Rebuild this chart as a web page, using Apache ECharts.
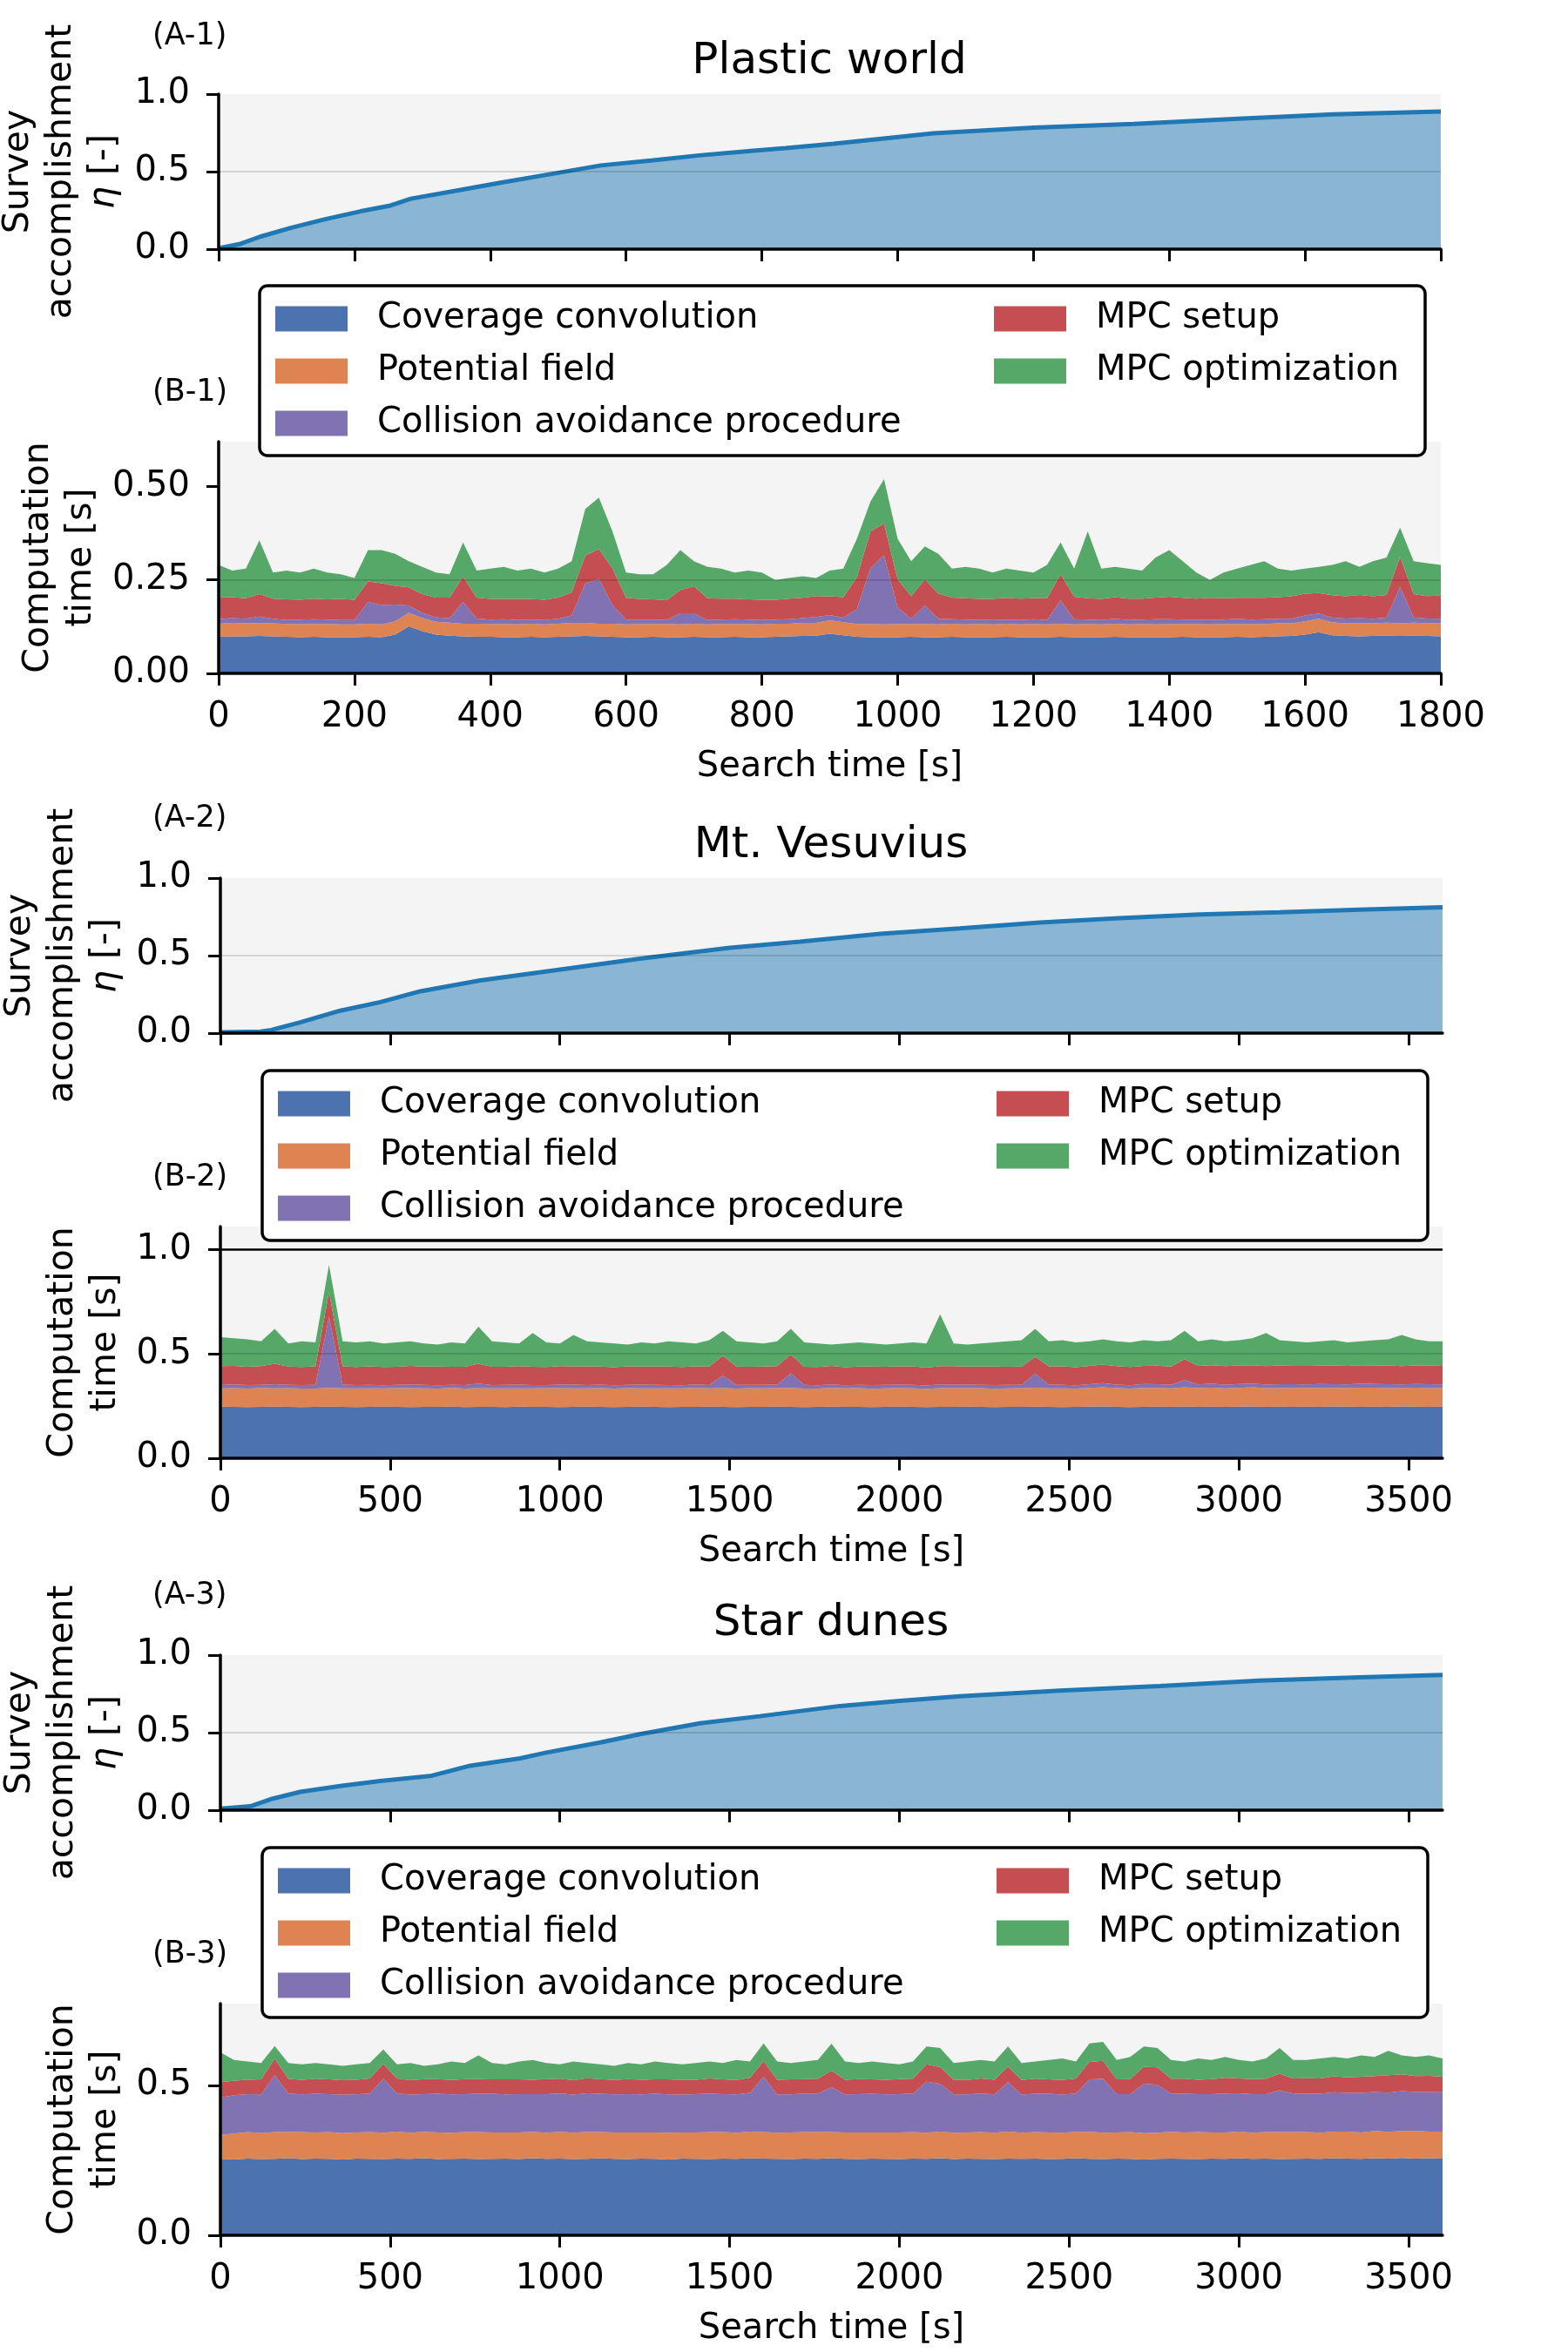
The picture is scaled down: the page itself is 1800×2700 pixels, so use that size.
<!DOCTYPE html>
<html>
<head>
<meta charset="utf-8">
<title>Survey accomplishment and computation time</title>
<script src="https://cdn.jsdelivr.net/npm/echarts@6.0.0/dist/echarts.min.js"></script>
<style>
    html, body { margin: 0; padding: 0; background: #fff; }
    #chart { width: 1800px; height: 2700px; }
</style>
</head>
<body>
<div id="chart"></div>
<script>
var FONT = 'DejaVu Sans';

// (A) survey accomplishment eta
var etaTime1 = [0, 32, 61, 106, 157, 209, 253, 283, 342, 415, 489, 563, 637, 711, 784, 835, 906, 1053, 1201, 1348, 1496, 1642, 1800];
var eta1 = [0.006, 0.034, 0.08, 0.137, 0.193, 0.244, 0.281, 0.325, 0.371, 0.428, 0.484, 0.54, 0.572, 0.606, 0.634, 0.652, 0.68, 0.747, 0.784, 0.807, 0.84, 0.869, 0.887];

var etaTime2 = [0, 118, 150, 235, 353, 471, 589, 765, 1001, 1236, 1501, 1707, 1943, 2178, 2414, 2649, 2885, 3120, 3356, 3600];
var eta2 = [0.005, 0.01, 0.02, 0.07, 0.145, 0.2, 0.27, 0.34, 0.41, 0.48, 0.55, 0.59, 0.64, 0.675, 0.713, 0.741, 0.765, 0.78, 0.797, 0.812];

var etaTime3 = [0, 88, 147, 235, 353, 471, 618, 736, 883, 957, 1119, 1236, 1413, 1589, 1825, 2002, 2178, 2473, 2767, 3061, 3356, 3600];
var eta3 = [0.01, 0.025, 0.07, 0.118, 0.156, 0.188, 0.22, 0.287, 0.334, 0.37, 0.437, 0.49, 0.56, 0.606, 0.672, 0.705, 0.734, 0.771, 0.80, 0.835, 0.857, 0.872];

// (B) computation time per step, sampled times
var timeB1 = [0,20,40,60,80,100,120,140,160,180,200,220,240,260,280,300,320,340,360,380,400,420,440,460,480,500,520,540,560,580,600,620,640,660,680,700,720,740,760,780,800,820,840,860,880,900,920,940,960,980,1000,1020,1040,1060,1080,1100,1120,1140,1160,1180,1200,1220,1240,1260,1280,1300,1320,1340,1360,1380,1400,1420,1440,1460,1480,1500,1520,1540,1560,1580,1600,1620,1640,1660,1680,1700,1720,1740,1760,1780,1800];
var timeB23 = [0,40,80,120,160,200,240,280,320,360,400,440,480,520,560,600,640,680,720,760,800,840,880,920,960,1000,1040,1080,1120,1160,1200,1240,1280,1320,1360,1400,1440,1480,1520,1560,1600,1640,1680,1720,1760,1800,1840,1880,1920,1960,2000,2040,2080,2120,2160,2200,2240,2280,2320,2360,2400,2440,2480,2520,2560,2600,2640,2680,2720,2760,2800,2840,2880,2920,2960,3000,3040,3080,3120,3160,3200,3240,3280,3320,3360,3400,3440,3480,3520,3560,3600];

// Plastic world
var coverage1 = [0.098,0.099,0.099,0.100,0.099,0.098,0.097,0.098,0.097,0.097,
    0.097,0.098,0.097,0.104,0.126,0.113,0.104,0.101,0.099,0.098,
    0.098,0.097,0.097,0.098,0.097,0.098,0.099,0.100,0.099,0.098,
    0.097,0.097,0.098,0.097,0.097,0.098,0.097,0.097,0.098,0.097,
    0.097,0.098,0.099,0.100,0.101,0.106,0.102,0.098,0.097,0.097,
    0.097,0.098,0.097,0.097,0.098,0.097,0.097,0.097,0.098,0.097,
    0.097,0.097,0.098,0.097,0.097,0.097,0.098,0.097,0.097,0.097,
    0.097,0.098,0.097,0.097,0.097,0.098,0.097,0.098,0.099,0.100,
    0.104,0.110,0.102,0.100,0.099,0.100,0.101,0.100,0.101,0.100,0.099];
var potential1 = [0.035,0.036,0.035,0.034,0.035,0.034,0.035,0.034,0.035,0.034,
    0.034,0.035,0.034,0.035,0.036,0.035,0.034,0.035,0.034,0.035,
    0.034,0.035,0.034,0.035,0.034,0.035,0.036,0.035,0.034,0.035,
    0.034,0.035,0.034,0.035,0.034,0.035,0.034,0.035,0.034,0.035,
    0.034,0.035,0.034,0.035,0.034,0.036,0.035,0.034,0.035,0.034,
    0.035,0.034,0.035,0.034,0.035,0.034,0.035,0.034,0.035,0.034,
    0.035,0.034,0.035,0.034,0.035,0.034,0.035,0.034,0.035,0.034,
    0.035,0.034,0.035,0.034,0.035,0.034,0.035,0.034,0.035,0.034,
    0.035,0.036,0.035,0.034,0.035,0.034,0.035,0.034,0.035,0.034,0.035];
var collision1 = [0.012,0.013,0.012,0.018,0.012,0.011,0.012,0.013,0.012,0.012,
    0.012,0.058,0.052,0.045,0.020,0.014,0.012,0.012,0.058,0.014,
    0.012,0.013,0.012,0.011,0.012,0.013,0.020,0.105,0.120,0.050,
    0.013,0.012,0.012,0.011,0.030,0.028,0.012,0.012,0.013,0.012,
    0.012,0.011,0.012,0.013,0.016,0.014,0.012,0.040,0.150,0.185,
    0.045,0.014,0.050,0.015,0.012,0.013,0.012,0.012,0.011,0.012,
    0.013,0.012,0.062,0.014,0.012,0.012,0.013,0.012,0.012,0.014,
    0.013,0.012,0.012,0.013,0.012,0.014,0.012,0.013,0.012,0.012,
    0.016,0.014,0.012,0.013,0.014,0.012,0.013,0.098,0.014,0.013,0.012];
var mpcSetup1 = [0.058,0.056,0.055,0.060,0.054,0.055,0.053,0.055,0.054,0.056,
    0.054,0.055,0.058,0.050,0.048,0.050,0.053,0.055,0.068,0.056,
    0.055,0.054,0.056,0.055,0.054,0.057,0.062,0.075,0.080,0.098,
    0.058,0.055,0.054,0.053,0.062,0.072,0.058,0.056,0.055,0.054,
    0.054,0.053,0.055,0.054,0.056,0.050,0.055,0.085,0.098,0.085,
    0.075,0.060,0.070,0.068,0.058,0.057,0.055,0.056,0.058,0.057,
    0.056,0.058,0.070,0.060,0.057,0.056,0.058,0.057,0.056,0.058,
    0.060,0.058,0.056,0.058,0.057,0.056,0.058,0.057,0.058,0.060,
    0.058,0.055,0.060,0.059,0.062,0.060,0.061,0.080,0.062,0.060,0.062];
var mpcOpt1 = [0.087,0.071,0.079,0.144,0.070,0.077,0.073,0.080,0.072,0.066,
    0.058,0.084,0.089,0.086,0.070,0.073,0.067,0.062,0.091,0.072,
    0.081,0.086,0.076,0.081,0.073,0.077,0.083,0.125,0.137,0.099,
    0.068,0.066,0.067,0.094,0.107,0.067,0.084,0.080,0.070,0.077,
    0.073,0.053,0.055,0.058,0.048,0.069,0.076,0.103,0.080,0.119,
    0.108,0.094,0.088,0.106,0.077,0.084,0.081,0.071,0.078,0.075,
    0.069,0.089,0.085,0.075,0.179,0.081,0.081,0.080,0.075,0.107,
    0.125,0.098,0.070,0.048,0.069,0.078,0.088,0.098,0.076,0.069,
    0.067,0.070,0.081,0.094,0.075,0.094,0.100,0.078,0.088,0.088,0.082];

// Mt. Vesuvius
var coverage2 = [0.247,0.246,0.245,0.246,0.247,0.246,0.245,0.246,0.247,0.246,
    0.245,0.246,0.247,0.246,0.245,0.246,0.246,0.247,0.245,0.246,
    0.246,0.245,0.247,0.246,0.246,0.245,0.246,0.247,0.246,0.245,
    0.246,0.247,0.246,0.245,0.246,0.246,0.247,0.246,0.245,0.246,
    0.246,0.247,0.246,0.245,0.246,0.247,0.246,0.246,0.245,0.246,
    0.247,0.246,0.245,0.246,0.246,0.247,0.246,0.245,0.246,0.246,
    0.247,0.246,0.245,0.246,0.247,0.248,0.246,0.245,0.246,0.247,
    0.246,0.248,0.246,0.247,0.246,0.247,0.248,0.246,0.247,0.246,
    0.247,0.246,0.248,0.247,0.246,0.247,0.246,0.248,0.247,0.246,0.247];
var potential2 = [0.088,0.090,0.089,0.091,0.088,0.090,0.089,0.088,0.090,0.089,
    0.090,0.089,0.088,0.090,0.091,0.089,0.088,0.090,0.089,0.090,
    0.089,0.090,0.088,0.089,0.090,0.091,0.089,0.088,0.090,0.089,
    0.090,0.088,0.089,0.090,0.089,0.091,0.088,0.090,0.089,0.090,
    0.089,0.090,0.091,0.089,0.088,0.090,0.089,0.090,0.088,0.089,
    0.090,0.089,0.088,0.090,0.091,0.089,0.090,0.088,0.089,0.090,
    0.091,0.089,0.090,0.088,0.090,0.092,0.090,0.089,0.091,0.090,
    0.089,0.092,0.090,0.091,0.089,0.090,0.092,0.090,0.089,0.091,
    0.090,0.091,0.089,0.090,0.092,0.091,0.090,0.089,0.091,0.090,0.089];
var collision2 = [0.016,0.018,0.017,0.015,0.020,0.016,0.017,0.018,0.340,0.018,
    0.016,0.017,0.015,0.016,0.018,0.017,0.016,0.015,0.017,0.022,
    0.016,0.017,0.018,0.016,0.015,0.017,0.018,0.016,0.017,0.015,
    0.016,0.018,0.017,0.016,0.015,0.017,0.016,0.060,0.018,0.016,
    0.017,0.016,0.070,0.018,0.016,0.017,0.015,0.016,0.018,0.017,
    0.016,0.017,0.015,0.018,0.016,0.017,0.016,0.018,0.017,0.016,
    0.068,0.018,0.017,0.016,0.018,0.020,0.017,0.016,0.019,0.018,
    0.017,0.035,0.018,0.020,0.017,0.019,0.018,0.017,0.019,0.018,
    0.017,0.019,0.018,0.017,0.020,0.018,0.019,0.017,0.018,0.019,0.018];
var mpcSetup2 = [0.090,0.088,0.087,0.089,0.098,0.087,0.086,0.088,0.120,0.087,
    0.086,0.088,0.087,0.086,0.088,0.087,0.089,0.086,0.087,0.095,
    0.087,0.086,0.088,0.087,0.086,0.088,0.087,0.089,0.086,0.087,
    0.088,0.086,0.087,0.088,0.087,0.086,0.088,0.095,0.087,0.086,
    0.087,0.088,0.090,0.086,0.087,0.088,0.086,0.087,0.088,0.086,
    0.087,0.088,0.086,0.087,0.088,0.086,0.087,0.088,0.086,0.087,
    0.080,0.087,0.088,0.086,0.087,0.089,0.088,0.087,0.086,0.088,
    0.087,0.100,0.088,0.087,0.089,0.088,0.087,0.088,0.089,0.087,
    0.088,0.087,0.089,0.088,0.087,0.088,0.089,0.087,0.088,0.089,0.088];
var mpcOpt2 = [0.139,0.133,0.132,0.119,0.167,0.111,0.123,0.115,0.129,0.120,
    0.118,0.120,0.113,0.117,0.118,0.111,0.106,0.117,0.112,0.177,
    0.122,0.117,0.109,0.162,0.118,0.109,0.150,0.120,0.116,0.114,
    0.105,0.116,0.111,0.121,0.118,0.110,0.126,0.119,0.121,0.117,
    0.111,0.119,0.123,0.117,0.113,0.103,0.114,0.116,0.111,0.107,
    0.110,0.115,0.116,0.249,0.109,0.106,0.111,0.116,0.122,0.126,
    0.134,0.120,0.125,0.119,0.118,0.121,0.119,0.118,0.123,0.117,
    0.126,0.135,0.118,0.125,0.119,0.121,0.130,0.159,0.121,0.118,
    0.113,0.117,0.121,0.113,0.115,0.121,0.126,0.149,0.126,0.116,0.118];

// Star dunes
var coverage3 = [0.255,0.253,0.256,0.254,0.255,0.257,0.254,0.256,0.255,0.253,
    0.256,0.255,0.254,0.256,0.255,0.257,0.254,0.255,0.256,0.254,
    0.255,0.256,0.254,0.257,0.255,0.256,0.254,0.255,0.257,0.255,
    0.254,0.256,0.255,0.253,0.256,0.255,0.254,0.256,0.255,0.257,
    0.256,0.255,0.254,0.256,0.255,0.257,0.255,0.254,0.256,0.255,
    0.254,0.256,0.255,0.257,0.254,0.256,0.255,0.254,0.256,0.255,
    0.256,0.254,0.255,0.257,0.255,0.254,0.256,0.255,0.253,0.255,
    0.256,0.255,0.254,0.256,0.255,0.257,0.255,0.256,0.254,0.255,
    0.256,0.255,0.257,0.256,0.255,0.257,0.256,0.258,0.256,0.257,0.256];
var potential3 = [0.080,0.086,0.088,0.087,0.089,0.088,0.090,0.087,0.089,0.088,
    0.087,0.089,0.088,0.090,0.087,0.088,0.089,0.087,0.088,0.090,
    0.088,0.087,0.089,0.088,0.087,0.089,0.088,0.090,0.087,0.088,
    0.089,0.087,0.088,0.089,0.087,0.088,0.090,0.088,0.087,0.089,
    0.088,0.087,0.089,0.088,0.090,0.087,0.088,0.089,0.087,0.088,
    0.089,0.088,0.087,0.089,0.088,0.087,0.089,0.088,0.090,0.087,
    0.088,0.089,0.087,0.088,0.090,0.088,0.087,0.089,0.088,0.087,
    0.089,0.088,0.090,0.087,0.088,0.089,0.087,0.088,0.090,0.089,
    0.088,0.087,0.089,0.090,0.088,0.091,0.089,0.090,0.092,0.089,0.090];
var collision3 = [0.125,0.128,0.127,0.129,0.190,0.128,0.126,0.129,0.127,0.128,
    0.127,0.129,0.180,0.128,0.127,0.126,0.129,0.128,0.127,0.128,
    0.129,0.127,0.128,0.126,0.129,0.128,0.127,0.129,0.128,0.127,
    0.128,0.127,0.129,0.128,0.126,0.128,0.129,0.127,0.128,0.129,
    0.185,0.128,0.127,0.129,0.128,0.150,0.127,0.128,0.129,0.127,
    0.128,0.129,0.170,0.160,0.128,0.127,0.129,0.128,0.165,0.127,
    0.128,0.129,0.127,0.128,0.175,0.180,0.128,0.127,0.165,0.160,
    0.128,0.129,0.127,0.128,0.130,0.128,0.129,0.127,0.140,0.129,
    0.128,0.130,0.131,0.129,0.132,0.130,0.131,0.133,0.130,0.132,0.131];
var mpcSetup3 = [0.050,0.049,0.048,0.050,0.055,0.049,0.048,0.050,0.049,0.048,
    0.049,0.050,0.050,0.049,0.048,0.050,0.049,0.048,0.050,0.049,
    0.048,0.050,0.049,0.048,0.050,0.049,0.048,0.050,0.049,0.048,
    0.050,0.049,0.048,0.050,0.049,0.048,0.050,0.049,0.048,0.050,
    0.052,0.049,0.050,0.048,0.049,0.055,0.049,0.050,0.048,0.049,
    0.050,0.049,0.058,0.055,0.049,0.048,0.050,0.049,0.052,0.049,
    0.050,0.048,0.049,0.050,0.058,0.060,0.049,0.050,0.056,0.058,
    0.049,0.050,0.048,0.050,0.052,0.049,0.050,0.051,0.055,0.050,
    0.052,0.051,0.053,0.052,0.054,0.053,0.058,0.056,0.053,0.054,0.052];
var mpcOpt3 = [0.100,0.069,0.061,0.055,0.042,0.053,0.052,0.053,0.050,0.048,
    0.051,0.052,0.048,0.047,0.058,0.044,0.049,0.062,0.054,0.079,
    0.055,0.050,0.060,0.066,0.054,0.048,0.063,0.051,0.049,0.047,
    0.054,0.051,0.060,0.055,0.052,0.056,0.057,0.055,0.067,0.055,
    0.059,0.061,0.055,0.059,0.063,0.090,0.061,0.054,0.060,0.056,
    0.049,0.058,0.060,0.064,0.056,0.062,0.062,0.061,0.067,0.057,
    0.058,0.065,0.072,0.057,0.062,0.063,0.065,0.074,0.068,0.065,
    0.063,0.058,0.071,0.064,0.070,0.062,0.059,0.068,0.086,0.062,
    0.061,0.067,0.065,0.063,0.071,0.064,0.081,0.063,0.064,0.068,0.061];

var partNames = ['Coverage convolution', 'Potential field', 'Collision avoidance procedure', 'MPC setup', 'MPC optimization'];
var partColors = ['#4c72b0', '#dd8452', '#8172b3', '#c44e52', '#55a868'];
var titles = ['Plastic world', 'Mt. Vesuvius', 'Star dunes'];
var panelTags = ['(A-1)', '(B-1)', '(A-2)', '(B-2)', '(A-3)', '(B-3)'];

var ticksX1 = [0, 200, 400, 600, 800, 1000, 1200, 1400, 1600, 1800];
var ticksX2 = [0, 500, 1000, 1500, 2000, 2500, 3000, 3500];
var ticksEta = [0, 0.5, 1.0];
var ticksB1 = [0, 0.25, 0.5];
var ticksB2 = [0, 0.5, 1.0];
var ticksB3 = [0, 0.5];


function pairs(t, v) {
    var out = [];
    for (var i = 0; i < t.length; i++) {
        out.push([t[i], v[i]]);
    }
    return out;
}

// value first, time second: echarts stacks the first numeric dimension
function stackPairs(t, v) {
    var out = [];
    for (var i = 0; i < t.length; i++) {
        out.push([v[i], t[i]]);
    }
    return out;
}

function xAx(idx, max, step, ticks, withLabels) {
    return {
        type: 'value', gridIndex: idx, min: 0, max: max, interval: step, z: 3,
        axisLine: {show: true, onZero: false, lineStyle: {color: '#000', width: 3.5}},
        axisTick: {show: true, inside: false, length: 14, lineStyle: {color: '#000', width: 3}, customValues: ticks},
        axisLabel: {
            show: withLabels, customValues: ticks, margin: 31,
            fontSize: 40, fontFamily: FONT, color: '#000',
            formatter: function (v) { return String(v); }
        },
        splitLine: {show: false},
        name: withLabels ? 'Search time [s]' : '',
        nameLocation: 'middle', nameGap: 88,
        nameTextStyle: {fontSize: 40, fontFamily: FONT, color: '#000'}
    };
}

function yAx(idx, max, step, ticks, digits, name, gap) {
    return {
        type: 'value', gridIndex: idx, min: 0, max: max, interval: step, z: 3,
        axisLine: {show: true, lineStyle: {color: '#000', width: 3.5}},
        axisTick: {show: true, inside: false, length: 14, lineStyle: {color: '#000', width: 3}, customValues: ticks},
        axisLabel: {
            customValues: ticks, margin: 33,
            fontSize: 40, fontFamily: FONT, color: '#000',
            formatter: function (v) { return v.toFixed(digits); }
        },
        splitLine: {show: true, showMinLine: false, showMaxLine: false, lineStyle: {color: 'rgba(0,0,0,0.13)', width: 2}},
        name: name, nameLocation: 'middle', nameGap: gap, nameRotate: 90,
        nameTextStyle: {
            fontSize: 41, lineHeight: 49, fontFamily: FONT, color: '#000',
            rich: {i: {fontStyle: 'italic', fontSize: 41, lineHeight: 49, fontFamily: FONT, color: '#000'}}
        }
    };
}

function etaSeries(idx, t, v) {
    return {
        type: 'line', xAxisIndex: idx, yAxisIndex: idx, data: pairs(t, v),
        symbol: 'none', silent: true, z: 2,
        lineStyle: {color: '#1f77b4', width: 5},
        areaStyle: {color: '#1f77b4', opacity: 0.5}
    };
}

function stackSeries(idx, t, parts) {
    var list = [];
    for (var k = 0; k < parts.length; k++) {
        list.push({
            type: 'line', name: partNames[k], stack: 'time' + idx,
            xAxisIndex: idx, yAxisIndex: idx,
            data: stackPairs(t, parts[k]),
            encode: {x: 1, y: 0},
            symbol: 'none', silent: true, z: 2,
            color: partColors[k],
            itemStyle: {color: partColors[k]},
            lineStyle: {width: 0},
            areaStyle: {color: partColors[k], opacity: 1}
        });
    }
    return list;
}

function legendCol(left, top, names) {
    return {
        show: true, orient: 'vertical', left: left, top: top, padding: 0, z: 5,
        itemGap: 20, itemWidth: 83, itemHeight: 29, icon: 'rect', selectedMode: false,
        data: names,
        itemStyle: {borderWidth: 0},
        textStyle: {fontSize: 40, fontFamily: FONT, color: '#000', padding: [0, 0, 0, 29]}
    };
}

function label(text, x, y, size, align) {
    return {
        type: 'text', x: x, y: y, z: 6,
        style: {
            text: text, fill: '#000', font: size + 'px "' + FONT + '"',
            textAlign: align, textVerticalAlign: 'middle'
        }
    };
}

function frame(x, y, w, h) {
    return {
        type: 'rect', z: 4,
        shape: {x: x, y: y, width: w, height: h, r: 9},
        style: {fill: '#fff', stroke: '#000', lineWidth: 3.5}
    };
}

function drawChart() {
    var chart = echarts.init(document.getElementById('chart'), null, {renderer: 'canvas'});
    var etaName = 'Survey\naccomplishment\n{i|η} [-]';
    var timeName = 'Computation\ntime [s]';
    var bg = {show: true, backgroundColor: '#f4f4f4', borderWidth: 0, containLabel: false, outerBoundsMode: 'none'};

    var series = [];
    series.push(etaSeries(0, etaTime1, eta1));
    series = series.concat(stackSeries(1, timeB1, [coverage1, potential1, collision1, mpcSetup1, mpcOpt1]));
    series.push(etaSeries(2, etaTime2, eta2));
    series = series.concat(stackSeries(3, timeB23, [coverage2, potential2, collision2, mpcSetup2, mpcOpt2]));
    series.push(etaSeries(4, etaTime3, eta3));
    series = series.concat(stackSeries(5, timeB23, [coverage3, potential3, collision3, mpcSetup3, mpcOpt3]));

    // budget line at 1.0 s in (B-2)
    series[11].markLine = {
        silent: true, symbol: ['none', 'none'], label: {show: false},
        lineStyle: {color: '#000', width: 2.7, type: 'solid'},
        emphasis: {disabled: true},
        data: [{yAxis: 1.0}]
    };

    var leftCol = partNames.slice(0, 3);
    var rightCol = partNames.slice(3);

    chart.setOption({
        animation: false,
        backgroundColor: '#fff',
        grid: [
            Object.assign({left: 251, right: 146, top: 108, height: 178}, bg),
            Object.assign({left: 251, right: 146, top: 507, height: 266}, bg),
            Object.assign({left: 253, right: 144, top: 1008, height: 178}, bg),
            Object.assign({left: 253, right: 144, top: 1408, height: 266}, bg),
            Object.assign({left: 253, right: 144, top: 1900, height: 178}, bg),
            Object.assign({left: 253, right: 144, top: 2300, height: 266}, bg)
        ],
        xAxis: [
            xAx(0, 1800, 200, ticksX1, false),
            xAx(1, 1800, 200, ticksX1, true),
            xAx(2, 3600, 500, ticksX2, false),
            xAx(3, 3600, 500, ticksX2, true),
            xAx(4, 3600, 500, ticksX2, false),
            xAx(5, 3600, 500, ticksX2, true)
        ],
        yAxis: [
            yAx(0, 1.0, 0.5, ticksEta, 1, etaName, 94),
            yAx(1, 0.62, 0.25, ticksB1, 2, timeName, 132),
            yAx(2, 1.0, 0.5, ticksEta, 1, etaName, 94),
            yAx(3, 1.11, 0.5, ticksB2, 1, timeName, 107),
            yAx(4, 1.0, 0.5, ticksEta, 1, etaName, 94),
            yAx(5, 0.773, 0.5, ticksB3, 1, timeName, 107)
        ],
        legend: [
            legendCol(316, 346, leftCol),
            legendCol(1141, 346, rightCol),
            legendCol(319, 1247, leftCol),
            legendCol(1144, 1247, rightCol),
            legendCol(319, 2139, leftCol),
            legendCol(1144, 2139, rightCol)
        ],
        graphic: {
            elements: [
                frame(298, 328, 1338, 195),
                frame(301, 1229, 1338, 195),
                frame(301, 2121, 1338, 195),
                label(titles[0], 952, 71, 50, 'center'),
                label(titles[1], 954, 971, 50, 'center'),
                label(titles[2], 954, 1864, 50, 'center'),
                label(panelTags[0], 175, 42, 35, 'left'),
                label(panelTags[1], 175, 451, 35, 'left'),
                label(panelTags[2], 175, 940, 35, 'left'),
                label(panelTags[3], 175, 1352, 35, 'left'),
                label(panelTags[4], 175, 1832, 35, 'left'),
                label(panelTags[5], 175, 2244, 35, 'left')
            ]
        },
        series: series
    });
}

drawChart();
</script>
</body>
</html>
